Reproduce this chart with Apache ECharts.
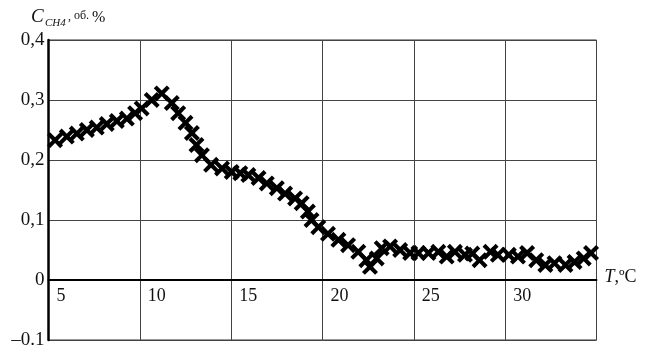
<!DOCTYPE html>
<html>
<head>
<meta charset="utf-8">
<script src="https://cdn.jsdelivr.net/npm/echarts@6/dist/echarts.min.js"></script>
<style>
html,body{margin:0;padding:0;background:#fff;}
#c{width:648px;height:345px;}
</style>
</head>
<body>
<div id="c"></div>
<script>
var temps = [5.36, 6.0, 6.55, 7.1, 7.64, 8.19, 8.74, 9.29, 9.74, 10.1, 10.65, 11.2, 11.75, 12.1, 12.5, 12.85, 13.1, 13.4, 13.9, 14.5, 15.03, 15.5, 15.94, 16.5, 16.95, 17.5, 17.95, 18.5, 18.86, 19.2, 19.4, 19.77, 20.3, 20.87, 21.4, 21.96, 22.4, 22.6, 22.97, 23.24, 23.7, 24.25, 24.8, 25.25, 25.8, 26.34, 26.8, 27.25, 27.8, 28.2, 28.6, 29.2, 29.6, 30.2, 30.7, 31.2, 31.7, 32.2, 32.7, 33.3, 33.8, 34.3, 34.7];
var ch4 = [0.233, 0.239, 0.244, 0.25, 0.254, 0.26, 0.265, 0.269, 0.278, 0.286, 0.30, 0.311, 0.295, 0.278, 0.262, 0.245, 0.225, 0.208, 0.192, 0.186, 0.18, 0.178, 0.175, 0.17, 0.161, 0.153, 0.144, 0.136, 0.128, 0.114, 0.10, 0.088, 0.077, 0.067, 0.058, 0.047, 0.033, 0.022, 0.036, 0.053, 0.056, 0.05, 0.045, 0.045, 0.045, 0.047, 0.039, 0.047, 0.042, 0.044, 0.033, 0.047, 0.042, 0.042, 0.039, 0.045, 0.033, 0.025, 0.028, 0.025, 0.03, 0.036, 0.045];
var yTickValues = [-0.1, 0, 0.1, 0.2, 0.3, 0.4];
var yTickLabels = ['\u20130.1', '0', '0,1', '0,2', '0,3', '0,4'];
var xTickValues = [5, 10, 15, 20, 25, 30, 35];
var xTickLabels = ['5', '10', '15', '20', '25', '30', ''];

var pts = temps.map(function (t, i) { return [t, ch4[i]]; });
var crossPath = 'path://M0,0.18 L0.18,0 L0.5,0.32 L0.82,0 L1,0.18 L0.68,0.5 L1,0.82 L0.82,1 L0.5,0.68 L0.18,1 L0,0.82 L0.32,0.5 Z';
var serif = '"Liberation Serif", "DejaVu Serif", serif';

var chart = echarts.init(document.getElementById('c'), null, {renderer: 'canvas'});
chart.setOption({
  animation: false,
  backgroundColor: '#fff',
  grid: {left: 48.5, right: 51.5, top: 40, bottom: 5, show: true, borderColor: '#333', borderWidth: 1,
         containLabel: false, outerBoundsMode: 'none'},
  xAxis: {
    type: 'value', min: 5, max: 35, interval: 5,
    axisLine: {show: true, onZero: true, lineStyle: {color: '#000', width: 2}},
    axisTick: {show: false},
    splitLine: {show: true, lineStyle: {color: '#444', width: 1}},
    axisLabel: {
      align: 'left', verticalAlign: 'top', margin: -53, color: '#111', fontFamily: serif, fontSize: 18,
      padding: [0, 0, 0, 8],
      formatter: function (v) { var i = xTickValues.indexOf(v); return i >= 0 ? xTickLabels[i] : ''; }
    },
    name: '{i|T},\u00BAC', nameLocation: 'end', nameGap: 8,
    nameTextStyle: {
      color: '#111', fontFamily: serif, fontSize: 18, padding: [0, 0, 5, 0],
      rich: {i: {fontStyle: 'italic', fontFamily: serif, fontSize: 18, color: '#111'}}
    }
  },
  yAxis: {
    type: 'value', min: -0.1, max: 0.4, interval: 0.1,
    axisLine: {show: true, lineStyle: {color: '#000', width: 2.5}},
    axisTick: {show: false},
    splitLine: {show: true, lineStyle: {color: '#444', width: 1}},
    axisLabel: {
      margin: 4, color: '#111', fontFamily: serif, fontSize: 19,
      formatter: function (v) {
        for (var i = 0; i < yTickValues.length; i++) { if (Math.abs(yTickValues[i] - v) < 1e-9) return yTickLabels[i]; }
        return '';
      }
    }
  },
  graphic: [
    {type: 'text', left: 31, top: 7, style: {text: 'C', font: 'italic 19px ' + serif, fill: '#111'}},
    {type: 'text', left: 45, top: 18, style: {text: 'CH4', font: 'italic 11px ' + serif, fill: '#111'}},
    {type: 'text', left: 68, top: 11, style: {text: ',', font: '12px ' + serif, fill: '#111'}},
    {type: 'text', left: 74, top: 10, style: {text: '\u043E\u0431.', font: '12px ' + serif, fill: '#111'}},
    {type: 'text', left: 92, top: 10, style: {text: '%', font: '16px ' + serif, fill: '#111'}}
  ],
  series: [{
    type: 'scatter',
    data: pts,
    symbol: crossPath,
    symbolSize: 16,
    itemStyle: {color: '#000', opacity: 1},
    z: 5
  }]
});
</script>
</body>
</html>
